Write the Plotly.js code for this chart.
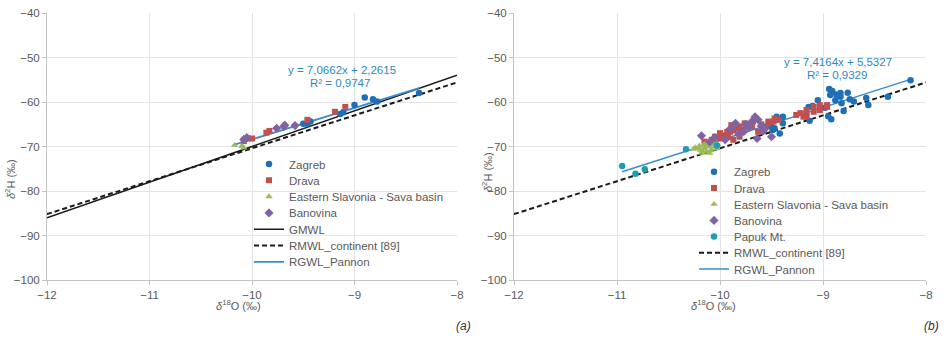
<!DOCTYPE html>
<html>
<head>
<meta charset="utf-8">
<script src="https://cdn.plot.ly/plotly-3.0.1.min.js"></script>
<style>
  html, body { margin: 0; padding: 0; background: #fff; }
  #chart { width: 944px; height: 339px; }
</style>
</head>
<body>
<div id="chart"></div>
<script>
// ---------- Panel (a): δ18O / δ2H per region ----------
const zagrebA_x = [-8.37, -8.90, -8.82, -8.78, -9.00, -9.11, -9.14, -9.43, -9.46, -9.50];
const zagrebA_y = [-58.0, -59.0, -59.4, -59.9, -60.7, -62.3, -62.7, -64.4, -64.9, -64.9];

const dravaA_x = [-9.09, -9.19, -9.46, -9.83, -9.86, -10.00, -10.04, -10.08];
const dravaA_y = [-61.1, -62.2, -64.0, -66.5, -66.9, -68.2, -68.2, -68.8];

const slavoniaA_x = [-10.17, -10.10, -10.08];
const slavoniaA_y = [-69.7, -69.9, -70.3];

const banovinaA_x = [-9.69, -9.76, -9.68, -9.58, -10.05, -10.08];
const banovinaA_y = [-65.5, -65.9, -65.2, -65.3, -68.0, -68.4];

// ---------- Panel (b) ----------
const zagrebB_x = [-8.15, -8.37, -8.56, -8.58, -8.74, -8.76, -8.82, -8.80, -8.83, -8.83,
                   -8.88, -8.91, -8.94, -8.93, -8.95, -8.92, -9.05, -9.13, -9.14, -9.10,
                   -8.98, -9.39, -9.45, -9.39, -9.51, -9.55, -9.50, -9.47, -9.49, -9.42,
                   -9.58, -8.70, -8.87];
const zagrebB_y = [-55.1, -58.8, -60.7, -59.1, -59.4, -57.9, -60.3, -62.0, -58.0, -58.8,
                   -59.6, -57.5, -57.1, -58.4, -63.2, -63.9, -59.6, -64.2, -61.1, -60.9,
                   -61.3, -63.3, -63.3, -64.8, -64.8, -65.5, -65.5, -65.9, -66.3, -67.1,
                   -65.5, -59.9, -58.3];

const dravaB_x = [-10.15, -10.08, -10.05, -10.00, -10.00, -9.93, -9.90, -9.87, -9.87, -9.89,
                  -9.82, -9.81, -9.81, -9.76, -9.74, -9.71, -9.69, -9.68, -9.63, -9.53,
                  -9.53, -9.48, -9.47, -9.43, -9.26, -9.22, -9.19, -9.16, -9.16, -9.16,
                  -9.09, -9.09, -9.03, -9.03, -8.96, -8.96, -9.95, -9.78, -9.60, -9.92];
const dravaB_y = [-68.9, -68.5, -67.8, -68.2, -67.0, -66.7, -66.7, -68.5, -66.3, -65.2,
                  -65.9, -67.8, -65.5, -64.8, -65.2, -65.2, -65.5, -64.4, -66.7, -64.8,
                  -64.4, -64.4, -63.7, -64.0, -62.9, -62.5, -63.3, -62.5, -61.8, -63.3,
                  -62.2, -61.1, -61.8, -60.7, -61.1, -60.7, -67.5, -66.2, -65.0, -67.9];

const slavoniaB_x = [-10.24, -10.19, -10.15, -10.11, -10.08, -10.16, -10.05, -10.21, -10.13, -10.10,
                     -10.18, -10.06, -10.02, -10.12, -10.20, -10.09, -10.14, -10.03, -10.26, -10.17];
const slavoniaB_y = [-70.2, -70.8, -70.4, -69.7, -70.6, -69.7, -70.0, -70.5, -71.2, -71.5,
                     -71.5, -69.5, -69.6, -70.1, -69.9, -70.9, -69.4, -70.4, -70.6, -71.0];

const banovinaB_x = [-10.18, -9.66, -9.69, -9.64, -9.50, -9.56, -9.77, -9.95, -9.85, -9.63,
                     -9.72, -9.90, -10.05, -9.58, -9.82, -9.60, -10.10, -9.75];
const banovinaB_y = [-67.6, -63.3, -64.4, -68.2, -67.8, -65.9, -66.7, -68.5, -64.8, -64.0,
                     -65.8, -66.0, -68.0, -66.5, -67.2, -65.4, -69.0, -65.0];

const papuk_x = [-10.95, -10.82, -10.73, -10.33, -10.03];
const papuk_y = [-74.4, -76.1, -75.1, -70.6, -69.8];

// ---------- Water lines (slope, intercept, x extent) ----------
const gmwl = { slope: 8, intercept: 10, x: [-12, -8] };
const rmwl = { slope: 7.4, intercept: 3.6, x: [-12, -8] };
const rgwlA = { slope: 7.0662, intercept: 2.2615, x: [-10.17, -8.37], r2: '0,9747' };
const rgwlB = { slope: 7.4164, intercept: 5.5327, x: [-10.95, -8.15], r2: '0,9329' };

const lineY = (l) => l.x.map(v => l.slope * v + l.intercept);
const fmt = (v) => v.toFixed(4).replace('.', ',');

const COL = {
  zagreb: '#1f6fb6', drava: '#c0504d', slavonia: '#9bbb59', banovina: '#8064a2',
  papuk: '#1e9db0', rgwl: '#3a8cce', text: '#595959', grid: '#e4e4e4', axis: '#c4c4c4'
};
const FONT = 'Liberation Sans, Arial, sans-serif';

// plot area in pixels: left 47, right 926, top 13, bottom 280
const PL = 47, PR = 926, PT = 13, PB = 280;
const px2x = (p) => (p - PL) / (PR - PL);
const px2y = (p) => 1 - (p - PT) / (PB - PT);

// one small legend per entry so the rows sit tightly like the original key
const legends = {};
let legendCount = 0;
function legendAt(textX, rowY) {
  legendCount += 1;
  const key = legendCount === 1 ? 'legend' : 'legend' + legendCount;
  legends[key] = {
    x: px2x(textX - 40), y: px2y(rowY), xanchor: 'left', yanchor: 'middle',
    bgcolor: 'rgba(0,0,0,0)', borderwidth: 0,
    font: { family: FONT, size: 11.5, color: COL.text }
  };
  return key;
}

function pts(name, x, y, color, symbol, size, xa, ya, lx, ly) {
  return { type: 'scatter', mode: 'markers', name, x, y, xaxis: xa, yaxis: ya,
    marker: { color, symbol, size, line: { width: 0 } }, legend: legendAt(lx, ly) };
}
function ln(name, l, color, width, dash, xa, ya, lx, ly) {
  return { type: 'scatter', mode: 'lines', name, x: l.x, y: lineY(l), xaxis: xa, yaxis: ya,
    line: { color, width, dash }, legend: legendAt(lx, ly), hoverinfo: 'skip' };
}

const la = 289, lb = 734;
const rowsA = [164, 180.3, 196.6, 212.9, 229.2, 245.5, 261.8];
const rowsB = [171.7, 188, 204.2, 220.4, 236.6, 252.8, 269];

const traces = [
  ln('GMWL', gmwl, '#1a1a1a', 1.5, 'solid', 'x', 'y', la, rowsA[4]),
  ln('RMWL_continent [89]', rmwl, '#1a1a1a', 2, '5px,3px', 'x', 'y', la, rowsA[5]),
  ln('RGWL_Pannon', rgwlA, COL.rgwl, 1.8, 'solid', 'x', 'y', la, rowsA[6]),
  pts('Zagreb', zagrebA_x, zagrebA_y, COL.zagreb, 'circle', 6.5, 'x', 'y', la, rowsA[0]),
  pts('Drava', dravaA_x, dravaA_y, COL.drava, 'square', 6, 'x', 'y', la, rowsA[1]),
  pts('Eastern Slavonia - Sava basin', slavoniaA_x, slavoniaA_y, COL.slavonia, 'triangle-up', 6.5, 'x', 'y', la, rowsA[2]),
  pts('Banovina', banovinaA_x, banovinaA_y, COL.banovina, 'diamond', 7, 'x', 'y', la, rowsA[3]),

  ln('RMWL_continent [89]', rmwl, '#1a1a1a', 2, '5px,3px', 'x2', 'y2', lb, rowsB[5]),
  ln('RGWL_Pannon', rgwlB, COL.rgwl, 1.5, 'solid', 'x2', 'y2', lb, rowsB[6]),
  pts('Zagreb', zagrebB_x, zagrebB_y, COL.zagreb, 'circle', 6.5, 'x2', 'y2', lb, rowsB[0]),
  pts('Drava', dravaB_x, dravaB_y, COL.drava, 'square', 6, 'x2', 'y2', lb, rowsB[1]),
  pts('Eastern Slavonia - Sava basin', slavoniaB_x, slavoniaB_y, COL.slavonia, 'triangle-up', 6.5, 'x2', 'y2', lb, rowsB[2]),
  pts('Banovina', banovinaB_x, banovinaB_y, COL.banovina, 'diamond', 7, 'x2', 'y2', lb, rowsB[3]),
  pts('Papuk Mt.', papuk_x, papuk_y, COL.papuk, 'circle', 6.5, 'x2', 'y2', lb, rowsB[4])
];

function xAxis(domain, anchor) {
  return {
    domain, anchor, range: [-12, -8], tick0: -12, dtick: 1, showgrid: true, gridcolor: COL.grid,
    zeroline: false, showline: true, linecolor: COL.axis, linewidth: 1, ticks: 'outside',
    ticklen: 4, tickcolor: COL.axis, tickfont: { family: FONT, size: 11.5, color: COL.text },
    fixedrange: true
  };
}
function yAxis(anchor) {
  return {
    anchor, range: [-100, -40], tick0: -100, dtick: 10, showgrid: true, gridcolor: COL.grid,
    zeroline: false, showline: true, linecolor: COL.axis, linewidth: 1, ticks: 'outside',
    ticklen: 4, tickcolor: COL.axis, tickfont: { family: FONT, size: 11.5, color: COL.text },
    fixedrange: true
  };
}

const txt = (text, x, y, opts) => Object.assign({
  text, x: px2x(x), y: px2y(y), xref: 'paper', yref: 'paper', showarrow: false,
  xanchor: 'center', yanchor: 'middle', font: { family: FONT, size: 11.5, color: COL.text }
}, opts || {});

const eqFont = { family: FONT, size: 11.5, color: '#2e88c6' };
const titleFont = { family: FONT, size: 11, color: COL.text };
const annotations = [
  txt('y = ' + fmt(rgwlA.slope) + 'x + ' + fmt(rgwlA.intercept), 342, 69.5, { font: eqFont }),
  txt('R² = ' + rgwlA.r2, 340, 82.5, { font: eqFont }),
  txt('y = ' + fmt(rgwlB.slope) + 'x + ' + fmt(rgwlB.intercept), 838, 61.5, { font: eqFont }),
  txt('R² = ' + rgwlB.r2, 837, 74.5, { font: eqFont }),
  txt('<i>δ</i><sup>2</sup>H (‰)', 10, 179, { textangle: -90, font: titleFont }),
  txt('<i>δ</i><sup>2</sup>H (‰)', 487, 172, { textangle: -90, font: titleFont }),
  txt('<i>δ</i><sup>18</sup>O (‰)', 238, 305, { font: titleFont }),
  txt('<i>δ</i><sup>18</sup>O (‰)', 713, 305, { font: titleFont }),
  txt('<i>(a)</i>', 463, 326, { font: { family: FONT, size: 12, color: '#333' } }),
  txt('<i>(b)</i>', 931, 326, { font: { family: FONT, size: 12, color: '#333' } })
];

const layout = Object.assign({
  width: 944, height: 339,
  margin: { l: PL, r: 944 - PR, t: PT, b: 339 - PB, pad: 0 },
  paper_bgcolor: '#ffffff', plot_bgcolor: '#ffffff',
  font: { family: FONT, size: 11.5, color: COL.text },
  showlegend: true,
  xaxis: xAxis([0, px2x(457)], 'y'),
  yaxis: yAxis('x'),
  xaxis2: xAxis([px2x(514), 1], 'y2'),
  yaxis2: yAxis('x2'),
  annotations
}, legends);

Plotly.newPlot('chart', traces, layout, { displayModeBar: false, staticPlot: true });
</script>
</body>
</html>
